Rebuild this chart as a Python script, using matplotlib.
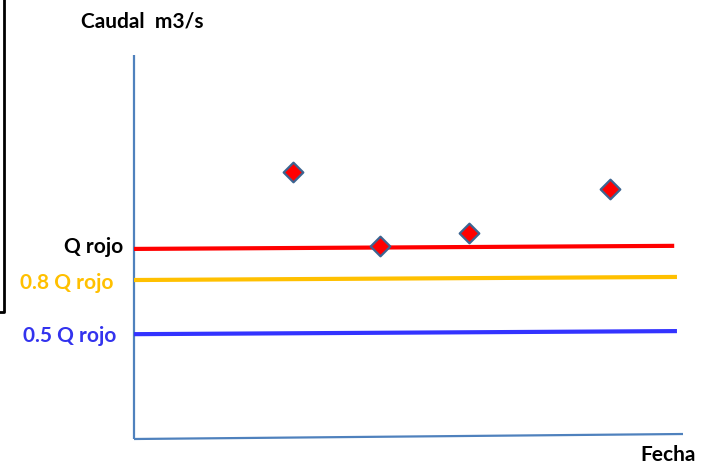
import matplotlib.pyplot as plt
from matplotlib.lines import Line2D

# measured points (fecha index, caudal)
fechas = [2.90, 4.48, 6.10, 8.67]
caudal = [6.95, 5.03, 5.36, 6.51]

# threshold lines: (x start, x end), (y start, y end)
umbral_x = {"q": [0.0, 9.84], "q08": [0.0, 9.89], "q05": [0.0, 9.89]}
umbral_y = {"q": [4.95, 5.03], "q08": [4.14, 4.22], "q05": [2.73, 2.81]}
umbral_lbl = {"q": "Q rojo", "q08": "0.8 Q rojo", "q05": "0.5 Q rojo"}
umbral_col = {"q": "#FF0000", "q08": "#FFC000", "q05": "#3333FF"}
lbl_col = {"q": "#000000", "q08": "#FFC000", "q05": "#3333EE"}
# label offsets in pixels from the y axis
lbl_dx = {"q": -11, "q08": -21, "q05": -18}
lbl_dy = {"q": 2, "q08": -3, "q05": -2}

W, H = 712, 466
fig = plt.figure(figsize=(W / 100, H / 100), dpi=100)
ax = fig.add_axes([134 / W, (H - 439) / H, (683 - 134) / W, (439 - 55) / H])
ax.set_xlim(0, 10)
ax.set_ylim(0, 10)
ax.axis("off")

axis_col = "#4F81BD"
ax.plot([0, 0], [0, 10], color=axis_col, lw=1.6, solid_capstyle="butt", clip_on=False)
ax.plot([0, 10], [0, 0.13], color=axis_col, lw=1.6, solid_capstyle="butt", clip_on=False)

font = "Lato"
fs = 15
for k in ["q", "q08", "q05"]:
    ax.plot(umbral_x[k], umbral_y[k], color=umbral_col[k], lw=3.0,
            solid_capstyle="butt", clip_on=False)
    ax.annotate(umbral_lbl[k], xy=(0, umbral_y[k][0]), xytext=(lbl_dx[k], lbl_dy[k]),
                textcoords="offset pixels", ha="right", va="center",
                color=lbl_col[k], fontsize=fs, fontweight="bold", family=font)

ax.scatter(fechas, caudal, marker="D", s=100, facecolor="#FF0000",
           edgecolor="#3C6491", linewidths=1.6, zorder=5, clip_on=False)

fig.text(142 / W, 1 - 22 / H, "Caudal  m3/s", ha="center", va="center",
         fontsize=fs, fontweight="bold", family=font)
fig.text(668 / W, 1 - 455 / H, "Fecha", ha="center", va="center",
         fontsize=fs, fontweight="bold", family=font)

# left black border fragment
fig.add_artist(Line2D([3.5 / W, 3.5 / W, 0], [1, 1 - 312 / H, 1 - 312 / H],
                      color="black", lw=2, transform=fig.transFigure))

fig.savefig("out.png", dpi=100, facecolor="white")
